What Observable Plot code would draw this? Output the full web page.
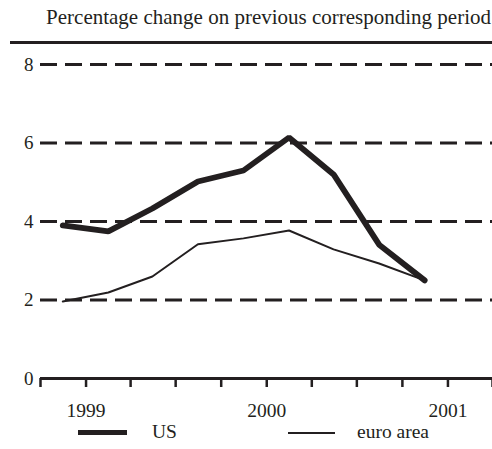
<!DOCTYPE html>
<html>
<head>
<meta charset="utf-8">
<script src="https://cdn.jsdelivr.net/npm/d3@7"></script>
<script src="https://cdn.jsdelivr.net/npm/@observablehq/plot@0.6"></script>
</head>
<body style="margin:0;position:relative;width:492px;height:449px;overflow:hidden;color:#231f20">
<div id="chart" style="position:absolute;left:0;top:0"></div>
<div id="title" style="position:absolute;right:1px;top:7px;font-family:'Liberation Serif';font-size:21px;white-space:nowrap;line-height:1">Percentage change on previous corresponding period</div>
<div style="position:absolute;left:10px;right:0;top:41px;height:0;border-top:3px solid #231f20"></div>
<div style="position:absolute;left:78px;width:49px;top:430px;height:5px;background:#231f20"></div>
<div style="position:absolute;left:152px;top:422px;font-family:'Liberation Serif';font-size:19.5px;line-height:1;white-space:nowrap">US</div>
<div style="position:absolute;left:288px;width:47px;top:432px;height:2px;background:#231f20"></div>
<div style="position:absolute;left:357px;top:422px;font-family:'Liberation Serif';font-size:19.5px;line-height:1;white-space:nowrap">euro area</div>
<script>
const quarters = ["1998-11-15","1999-02-15","1999-05-15","1999-08-15","1999-11-15","2000-02-15","2000-05-15","2000-08-15","2000-11-15"];
const usValues = [3.9, 3.75, 4.33, 5.02, 5.3, 6.14, 5.2, 3.41, 2.5];
const euroValues = [1.96, 2.19, 2.6, 3.42, 3.57, 3.77, 3.29, 2.93, 2.5];
const yTicks = [0, 2, 4, 6, 8];
const gridValues = [2, 4, 6, 8];
const yearLabels = ["1999-01-01", "2000-01-01", "2001-01-01"];
const xDomain = ["1998-10-01", "2001-04-01"];

const ink = "#231f20";
const parse = d3.utcParse("%Y-%m-%d");
const us = quarters.map((q, i) => ({date: parse(q), value: usValues[i]}));
const euro = quarters.map((q, i) => ({date: parse(q), value: euroValues[i]}));
const qTicks = d3.utcMonth.every(3).range(parse(xDomain[0]), d3.utcDay.offset(parse(xDomain[1]), 1));

function render() {
  const chart = Plot.plot({
    width: 492,
    height: 449,
    marginLeft: 40,
    marginRight: 0,
    marginTop: 64,
    marginBottom: 71,
    style: {fontFamily: "Liberation Serif", fontSize: "19px", color: ink, background: "transparent", overflow: "visible"},
    x: {type: "utc", domain: xDomain.map(parse)},
    y: {domain: [0, 8]},
    marks: [
      Plot.ruleY(gridValues, {stroke: ink, strokeWidth: 3, strokeDasharray: "17,8"}),
      Plot.axisY({ticks: yTicks, tickSize: 0, tickPadding: 7, tickFormat: d => d, fill: ink, fontSize: 19, label: null}),
      Plot.axisX({ticks: qTicks, tickSize: 9, tickFormat: () => "", stroke: ink, strokeWidth: 2.5, label: null}),
      Plot.axisX({ticks: yearLabels.map(parse), tickSize: 0, tickPadding: 25, tickFormat: d3.utcFormat("%Y"), fill: ink, fontSize: 19.5, label: null}),
      Plot.ruleY([0], {stroke: ink, strokeWidth: 3}),
      Plot.line(euro, {x: "date", y: "value", stroke: ink, strokeWidth: 2}),
      Plot.line(us, {x: "date", y: "value", stroke: ink, strokeWidth: 5.8, strokeLinejoin: "miter"})
    ]
  });
  const holder = document.getElementById("chart");
  holder.replaceChildren(chart);
}
render();
const fontLoads = [document.fonts.load("19px 'Liberation Serif'"), document.fonts.load("21px 'Liberation Serif'")];
Promise.all(fontLoads).then(() => document.fonts.ready).then(() => {
  setTimeout(() => { render(); document.body.offsetHeight; }, 60);
});
</script>
</body>
</html>
